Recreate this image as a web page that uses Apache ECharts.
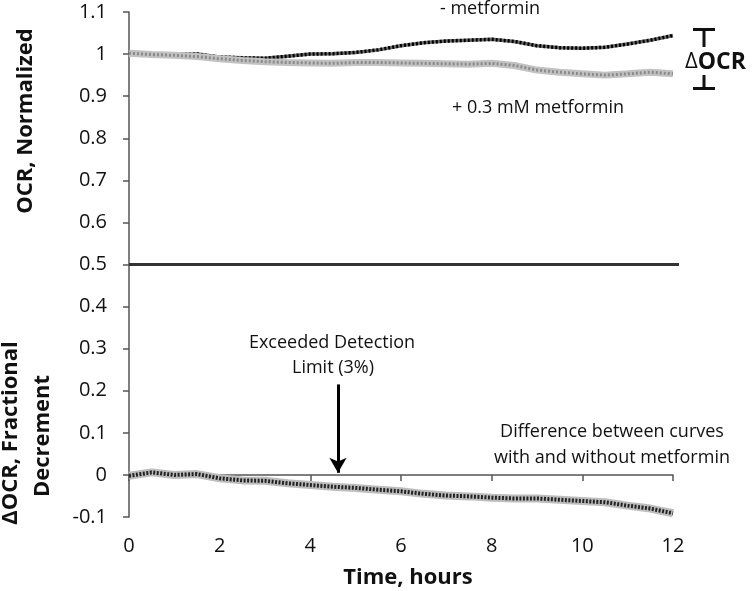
<!DOCTYPE html>
<html>
<head>
<meta charset="utf-8">
<script src="https://cdn.jsdelivr.net/npm/echarts@6/dist/echarts.min.js"></script>
<style>
html,body{margin:0;padding:0;background:#fff;}
#chart{width:756px;height:591px;}
</style>
</head>
<body>
<div id="chart"></div>
<script>
// ---- data ----
var timeHours = [0,0.5,1,1.5,2,2.5,3,3.5,4,4.5,5,5.5,6,6.5,7,7.5,8,8.5,9,9.5,10,10.5,11,11.5,12];
var ocrNoMetformin = [1.000,1.000,0.999,1.000,0.993,0.991,0.990,0.995,1.000,1.001,1.004,1.010,1.020,1.027,1.031,1.033,1.035,1.030,1.020,1.015,1.014,1.016,1.024,1.033,1.044];
var ocrMetformin = [1.002,0.999,0.997,0.994,0.989,0.985,0.982,0.980,0.979,0.978,0.980,0.980,0.979,0.978,0.977,0.976,0.978,0.973,0.962,0.957,0.953,0.950,0.953,0.957,0.953];
var ocrDecrement = [-0.002,0.006,0.000,0.002,-0.008,-0.013,-0.014,-0.020,-0.024,-0.028,-0.031,-0.035,-0.039,-0.045,-0.049,-0.051,-0.054,-0.056,-0.056,-0.059,-0.062,-0.065,-0.073,-0.080,-0.091];
var xTicks = [0,2,4,6,8,10,12];
var yTicks = [-0.1,0,0.1,0.2,0.3,0.4,0.5,0.6,0.7,0.8,0.9,1,1.1];
var panelDivider = 0.5;
var detectionArrow = {time: 4.61, from: 0.215, to: 0.005};

function pairs(xs, ys){ return xs.map(function(x,i){ return [x, ys[i]]; }); }

var chart = echarts.init(document.getElementById('chart'), null, {renderer:'canvas'});
var FONT = '"Open Sans", "DejaVu Sans", sans-serif';
var axisColor = '#555';

var option = {
  animation: false,
  backgroundColor: '#fff',
  grid: {left: 129, right: 83, top: 12, bottom: 74},
  xAxis: {
    type: 'value', min: xTicks[0], max: xTicks[xTicks.length-1], interval: 2,
    axisLine: {show: true, lineStyle: {color: axisColor, width: 1.5}},
    axisTick: {show: true, inside: false, length: 6, lineStyle: {color: axisColor, width: 1.5}},
    axisLabel: {color: '#111', fontSize: 20, fontFamily: FONT, margin: 19,
      formatter: function(v){ return String(Math.round(v)); }},
    splitLine: {show: false}
  },
  yAxis: {
    type: 'value', min: yTicks[0], max: yTicks[yTicks.length-1], interval: 0.1,
    axisLine: {show: true, lineStyle: {color: axisColor, width: 1.5}},
    axisTick: {show: true, inside: false, length: 6, lineStyle: {color: axisColor, width: 1.5}},
    axisLabel: {color: '#111', fontSize: 20, fontFamily: FONT, margin: 22,
      formatter: function(v){ return String(Math.round(v*10)/10); }},
    splitLine: {show: false}
  },
  series: [
    {name: '- metformin base', type: 'line', data: pairs(timeHours, ocrNoMetformin), symbol: 'none',
     lineStyle: {color: '#6a6a6a', width: 3.5}, z: 2},
    {name: '- metformin', type: 'line', data: pairs(timeHours, ocrNoMetformin), symbol: 'none',
     lineStyle: {color: '#000', width: 3.5, type: [2, 2]}, z: 3},
    {name: '+ 0.3 mM metformin halo', type: 'line', data: pairs(timeHours, ocrMetformin), symbol: 'none',
     lineStyle: {color: '#c2c2c2', width: 7}, z: 4},
    {name: '+ 0.3 mM metformin', type: 'line', data: pairs(timeHours, ocrMetformin), symbol: 'none',
     lineStyle: {color: '#8a8a8a', width: 3, type: [2, 2]}, z: 5},
    {name: 'decrement halo', type: 'line', data: pairs(timeHours, ocrDecrement), symbol: 'none',
     lineStyle: {color: '#bdbdbd', width: 8}, z: 4},
    {name: 'decrement', type: 'line', data: pairs(timeHours, ocrDecrement), symbol: 'none',
     lineStyle: {color: '#222', width: 4, type: [2, 1.5]}, z: 5,
     markLine: {
       silent: true, animation: false,
       symbol: ['none', 'arrow'], symbolSize: [13, 15],
       label: {show: false},
       lineStyle: {color: '#000', width: 3, type: 'solid'},
       data: [[{coord: [detectionArrow.time, detectionArrow.from]}, {coord: [detectionArrow.time, detectionArrow.to]}]]
     }}
  ]
};
chart.setOption(option);

// pixel positions of the divider line derived from the axes
var pA = chart.convertToPixel({gridIndex: 0}, [xTicks[0], panelDivider]);
var pB = chart.convertToPixel({gridIndex: 0}, [xTicks[xTicks.length-1], panelDivider]);

function txt(x, y, text, font, extra){
  var o = {type: 'text', x: x, y: y, silent: true, z: 100,
    style: {text: text, font: font, fill: '#111', align: 'center', verticalAlign: 'middle',
            textAlign: 'center', textVerticalAlign: 'middle'}};
  if (extra) for (var k in extra) o[k] = extra[k];
  return o;
}
var REG = '18px ' + FONT;
var BOLD = 'bold 22px ' + FONT;

chart.setOption({
  graphic: [
    {type: 'line', silent: true, z: 50, shape: {x1: pA[0], y1: pA[1], x2: pB[0] + 6, y2: pB[1]},
     style: {stroke: '#333', lineWidth: 3}},
    txt(490, 9, '- metformin', REG),
    txt(538, 108, '+ 0.3 mM metformin', REG),
    txt(332, 343, 'Exceeded Detection', REG),
    txt(333, 368, 'Limit (3%)', REG),
    txt(612, 432, 'Difference between curves', REG),
    txt(612, 458, 'with and without metformin', REG),
    txt(408, 578, 'Time, hours', BOLD),
    txt(26, 121, 'OCR, Normalized', BOLD, {rotation: Math.PI/2}),
    txt(11, 433, '\u0394OCR, Fractional', BOLD, {rotation: Math.PI/2}),
    txt(43, 436, 'Decrement', BOLD, {rotation: Math.PI/2}),
    // delta OCR bracket
    {type: 'polyline', silent: true, shape: {points: [[693, 29.5], [715, 29.5]]}, style: {stroke: '#111', lineWidth: 3, fill: null}},
    {type: 'polyline', silent: true, shape: {points: [[704, 29.5], [704, 47]]}, style: {stroke: '#111', lineWidth: 3, fill: null}},
    {type: 'polyline', silent: true, shape: {points: [[704, 75], [704, 88.5]]}, style: {stroke: '#111', lineWidth: 3, fill: null}},
    {type: 'polyline', silent: true, shape: {points: [[693, 88.5], [715, 88.5]]}, style: {stroke: '#111', lineWidth: 3, fill: null}},
    {type: 'text', x: 685, y: 62, silent: true,
     style: {text: '{a|\u0394}{b|OCR}', verticalAlign: 'middle', textVerticalAlign: 'middle', align: 'left', textAlign: 'left',
       rich: {a: {font: '22px ' + FONT, fill: '#111', color: '#111'}, b: {font: 'bold 23px ' + FONT, fill: '#111', color: '#111'}}}}
  ]
});
</script>
</body>
</html>
